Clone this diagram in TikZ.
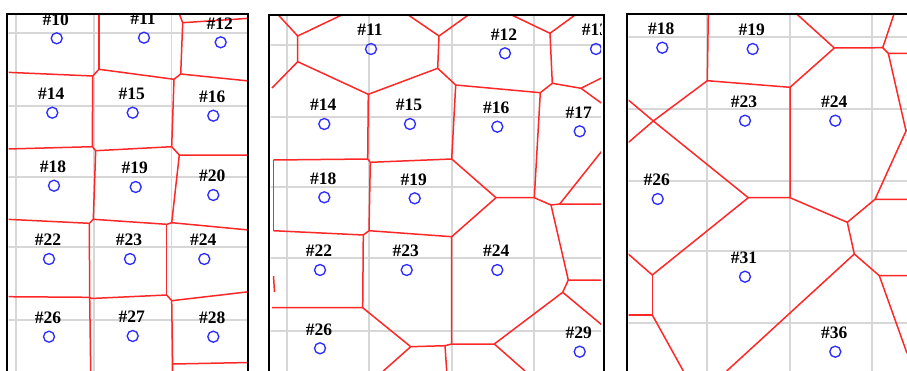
\documentclass[tikz,border=0pt]{standalone}
\usepackage{fontspec}
\setmainfont{Liberation Serif}
\definecolor{vred}{RGB}{255,40,40}
\definecolor{vblue}{RGB}{45,45,255}
\definecolor{vgrid}{RGB}{215,215,215}
\newcommand\vsite[4]{\node[site] (#1) at (#2,#3) {}; \node[lbl] (#1l) at (#2-1,#3-19) {\##4};}
\begin{document}
\begin{tikzpicture}[x=1pt,y=-1pt,
  vedge/.style={draw=vred,line width=1.5pt,line join=round},
  vgridline/.style={draw=vgrid,line width=1.7pt},
  site/.style={circle,draw=vblue,line width=1.35pt,minimum size=11pt,inner sep=0pt},
  lbl/.style={font=\bfseries\fontsize{17.5}{17.5}\selectfont,inner sep=0pt},
  frame/.style={draw=black,line width=1.8pt}]
\useasboundingbox (0,0) rectangle (907,370);

% ---------------- panel 1 ----------------
\begin{scope}
\clip (8.5,15.5) rectangle (247,371);
\foreach \x in {16,93.8,171.6} \draw[vgridline] (\x,0) -- (\x,371);
\foreach \y in {33,106,177,247,320} \draw[vgridline] (0,\y) -- (250,\y);
\draw[vedge] (99,14) -- (99,69.3);
\draw[vedge] (7.3,72.3) -- (92.7,76) -- (99,69.3) -- (174,79.3);
\draw[vedge] (92.7,76) -- (92.3,146.7);
\draw[vedge] (7.3,149) -- (92.3,146.7) -- (95.7,150.7) -- (171.7,146.7) -- (179.3,155) -- (249,155);
\draw[vedge] (174,79.3) -- (171.7,146.7);
\draw[vedge] (174,79.3) -- (180.7,74) -- (249,81);
\draw[vedge] (180.7,74) -- (182.7,22.7) -- (249,18.3);
\draw[vedge] (182.7,22.7) -- (179.3,14);
\draw[vedge] (95.7,150.7) -- (93.3,219.3);
\draw[vedge] (179.3,155) -- (171.7,222.7);
\draw[vedge] (7.3,219.3) -- (89.3,223.3) -- (93.3,219.3) -- (166.7,224.3) -- (171.7,222.7) -- (249,230);
\draw[vedge] (89.3,223.3) -- (89.7,297.3);
\draw[vedge] (166.7,224.3) -- (166.7,295);
\draw[vedge] (7.3,296.7) -- (89.7,297.3) -- (91,298.5) -- (166.7,295) -- (171.7,300.7) -- (249,291.7);
\draw[vedge] (89.7,297.3) -- (90.7,371);
\draw[vedge] (171.7,300.7) -- (172.7,371);
\draw[vedge] (172.7,364) -- (249,362.5);
\vsite{a10}{56.7}{38.3}{10}
\vsite{a11}{144}{37.7}{11}
\vsite{a12}{220.7}{42.3}{12}
\vsite{a14}{52.3}{112.7}{14}
\vsite{a15}{132.7}{112.7}{15}
\vsite{a16}{213.3}{115.7}{16}
\vsite{a18}{54}{185.7}{18}
\vsite{a19}{135.7}{187}{19}
\vsite{a20}{213.3}{195}{20}
\vsite{a22}{49}{259}{22}
\vsite{a23}{130}{259}{23}
\vsite{a24}{204.3}{259}{24}
\vsite{a26}{49}{336.7}{26}
\vsite{a27}{132.7}{336}{27}
\vsite{a28}{213.3}{336.7}{28}
\end{scope}
\draw[frame] (7.3,371) -- (7.3,14) -- (248.3,14) -- (248.3,371);

% ---------------- panel 2 ----------------
\begin{scope}
\clip (270.5,16.5) rectangle (601,371);
\foreach \x in {286.7,369.3,451.7,534.3} \draw[vgridline] (\x,0) -- (\x,371);
\foreach \y in {45,116.7,186.7,258.3,330.7} \draw[vgridline] (260,\y) -- (610,\y);
\draw[vedge] (278.3,15) -- (297.7,36) -- (341.7,15);
\draw[vedge] (297.7,36) -- (297.7,61.7) -- (272,88);
\draw[vedge] (297.7,61.7) -- (368.3,94.3) -- (437.7,68.3) -- (439,36) -- (408.3,15);
\draw[vedge] (439,36) -- (468.3,15);
\draw[vedge] (437.7,68.3) -- (455.7,85) -- (540.3,92.7) -- (552.3,83.3) -- (550,33.3) -- (511.7,15);
\draw[vedge] (550,33.3) -- (575,15);
\draw[vedge] (552.3,83.3) -- (581,88.3) -- (604,76.7);
\draw[vedge] (581,88.3) -- (604,105);
\draw[vedge] (455.7,85) -- (451.7,159);
\draw[vedge] (368.3,94.3) -- (367.7,159) -- (370.3,162.3) -- (451.7,159);
\draw[vedge] (273.3,160) -- (367.7,159);
\draw[vedge] (273.3,160) -- (273.3,230.7);
\draw[vedge] (451.7,159) -- (496,197.7) -- (534.3,197.7) -- (540.3,92.7);
\draw[vedge] (534.3,197.7) -- (551,205) -- (559.7,204) -- (604,204);
\draw[vedge] (559.7,204) -- (604,148.3);
\draw[vedge] (551,205) -- (568.3,280) -- (604,280);
\draw[vedge] (568.3,280) -- (562.7,292.3) -- (604,326.7);
\draw[vedge] (562.7,292.3) -- (494.3,344) -- (451.7,344);
\draw[vedge] (494.3,344) -- (525,371);
\draw[vedge] (451.7,344) -- (451.7,236.7) -- (496,197.7);
\draw[vedge] (451.7,236.7) -- (369,230.7) -- (363.3,235) -- (273.3,230.7);
\draw[vedge] (369,230.7) -- (370.3,162.3);
\draw[vedge] (363.3,235) -- (362.7,307.7) -- (272,307.7);
\draw[vedge] (362.7,307.7) -- (410.7,346.7) -- (445,345.7) -- (451.7,344);
\draw[vedge] (445,345.7) -- (446.7,371);
\draw[vedge] (410.7,346.7) -- (383.3,371);
\draw[vedge] (273.5,276) -- (274.5,292);
\vsite{b11}{371}{49}{11}
\vsite{b12}{505}{53.3}{12}
\vsite{b13}{596}{49}{13}
\vsite{b14}{324.3}{124}{14}
\vsite{b15}{410}{124}{15}
\vsite{b16}{497.3}{126.7}{16}
\vsite{b17}{579.7}{131.3}{17}
\vsite{b18}{324.3}{197.3}{18}
\vsite{b19}{414.7}{198.3}{19}
\vsite{b22}{320}{270}{22}
\vsite{b23}{406.7}{270}{23}
\vsite{b24}{497.3}{270}{24}
\vsite{b26}{320}{348.3}{26}
\vsite{b29}{579.7}{351.7}{29}
\end{scope}
\draw[frame] (269,371) -- (269,15) -- (604,15) -- (604,371);

% ---------------- panel 3 ----------------
\begin{scope}
\clip (628.5,15.5) rectangle (908,371);
\foreach \x in {707.3,790,872.3} \draw[vgridline] (\x,0) -- (\x,371);
\foreach \y in {36.7,108.7,180.7,251,322.7} \draw[vgridline] (620,\y) -- (910,\y);
\draw[vedge] (708.3,14) -- (707.3,80.7) -- (790,87.3) -- (834.3,48) -- (796.7,14);
\draw[vedge] (834.3,48) -- (882.7,47.7) -- (894,14);
\draw[vedge] (882.7,47.7) -- (888.3,53.3) -- (908,53.3);
\draw[vedge] (888.3,53.3) -- (906,131) -- (875,199.3) -- (908,199.3);
\draw[vedge] (906,131) -- (910,126);
\draw[vedge] (875,199.3) -- (847.3,222.3) -- (790,197.7) -- (790,87.3);
\draw[vedge] (790,197.7) -- (748.3,197.7) -- (653.3,121) -- (707.3,80.7);
\draw[vedge] (653.3,121) -- (626,98);
\draw[vedge] (653.3,121) -- (626,144.5);
\draw[vedge] (748.3,197.7) -- (652.3,275) -- (626,252);
\draw[vedge] (652.3,275) -- (652.3,315) -- (626,315);
\draw[vedge] (652.3,315) -- (683.3,371);
\draw[vedge] (847.3,222.3) -- (854.3,254) -- (726.7,371);
\draw[vedge] (854.3,254) -- (879.3,275.7) -- (908,275.7);
\draw[vedge] (879.3,275.7) -- (907,353.3);
\vsite{c18}{662.3}{47.7}{18}
\vsite{c19}{752.7}{49}{19}
\vsite{c23}{745}{120.7}{23}
\vsite{c24}{835.3}{120.7}{24}
\vsite{c26}{657.7}{199}{26}
\vsite{c31}{745}{276.7}{31}
\vsite{c36}{835.3}{351.7}{36}
\end{scope}
\draw[frame] (627.3,371) -- (627.3,14) -- (908,14);
\end{tikzpicture}
\end{document}
